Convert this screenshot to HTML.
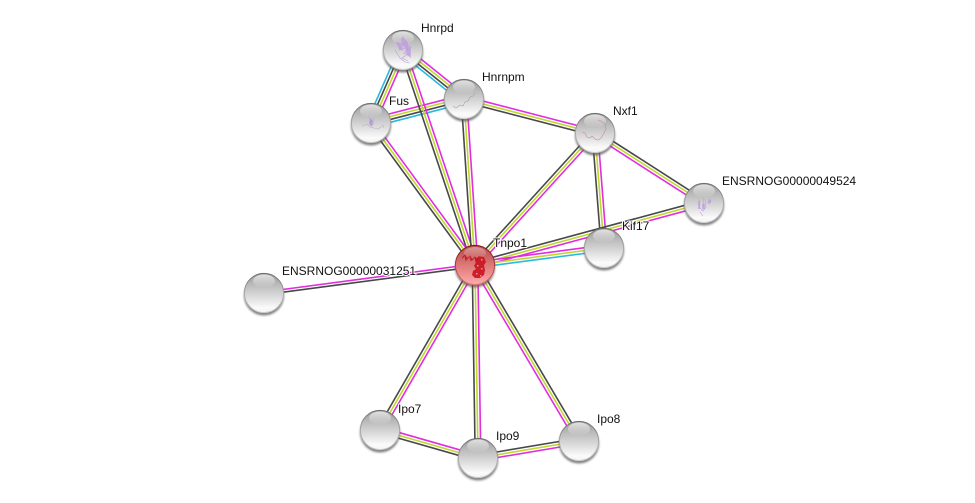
<!DOCTYPE html>
<html>
<head>
<meta charset="utf-8">
<style>
html,body{margin:0;padding:0;background:#fff;width:975px;height:503px;overflow:hidden}
svg{display:block}
text{font-family:"Liberation Sans",Arial,sans-serif;font-size:12px;fill:#111;paint-order:stroke;stroke:#fff;stroke-width:2px;stroke-linejoin:round}
.s{fill:none;stroke-width:.6}
</style>
</head>
<body>
<svg width="975" height="503" viewBox="0 0 975 503" xmlns="http://www.w3.org/2000/svg">
<defs>
<linearGradient id="gb" x1="0" y1="0" x2="0" y2="1">
<stop offset="0" stop-color="#9a9a9a"/><stop offset=".3" stop-color="#bcbcbc"/><stop offset=".6" stop-color="#dcdcdc"/><stop offset=".88" stop-color="#fbfbfb"/><stop offset="1" stop-color="#f4f4f4"/>
</linearGradient>
<linearGradient id="gs" x1="0" y1="0" x2="0" y2="1">
<stop offset="0" stop-color="#6c6c6c"/><stop offset=".5" stop-color="#a8a8a8"/><stop offset="1" stop-color="#c8c8c8"/>
</linearGradient>
<linearGradient id="gh" x1="0" y1="0" x2="0" y2="1">
<stop offset="0" stop-color="#fff" stop-opacity=".7"/><stop offset="1" stop-color="#fff" stop-opacity="0"/>
</linearGradient>
<linearGradient id="rb" x1="0" y1="0" x2="0" y2="1">
<stop offset="0" stop-color="#b84a4a"/><stop offset=".35" stop-color="#d06a6a"/><stop offset=".7" stop-color="#ec8c8c"/><stop offset="1" stop-color="#ffacac"/>
</linearGradient>
<linearGradient id="rs" x1="0" y1="0" x2="0" y2="1">
<stop offset="0" stop-color="#7a1414"/><stop offset=".5" stop-color="#a83c3c"/><stop offset="1" stop-color="#d07878"/>
</linearGradient>
<filter id="bl" x="-30%" y="-30%" width="160%" height="160%"><feGaussianBlur stdDeviation="1"/></filter>
<g id="n">
<circle cx="0" cy="2.5" r="20" fill="#555" opacity=".75" filter="url(#bl)"/>
<circle r="19.6" fill="url(#gb)" stroke="url(#gs)" stroke-width="1"/>
<ellipse cx="0" cy="-12" rx="11" ry="6.5" fill="url(#gh)"/>
</g>
<g id="r">
<circle cx="0" cy="2.5" r="20" fill="#644" opacity=".7" filter="url(#bl)"/>
<circle r="19.6" fill="url(#rb)" stroke="url(#rs)" stroke-width="1"/>
</g>
<line id="e1" x1="403" y1="50" x2="371" y2="123"/>
<line id="e2" x1="403" y1="50" x2="464" y2="99"/>
<line id="e3" x1="371" y1="123" x2="464" y2="99"/>
<line id="e4" x1="403" y1="50" x2="475" y2="265"/>
<line id="e5" x1="371" y1="123" x2="475" y2="265"/>
<line id="e6" x1="464" y1="99" x2="475" y2="265"/>
<line id="e7" x1="464" y1="99" x2="595" y2="133"/>
<line id="e8" x1="595" y1="133" x2="475" y2="265"/>
<line id="e9" x1="595" y1="133" x2="604" y2="248"/>
<line id="e10" x1="595" y1="133" x2="704" y2="203"/>
<line id="e11" x1="704" y1="203" x2="475" y2="265"/>
<line id="e12" x1="604" y1="248" x2="475" y2="265"/>
<line id="e13" x1="264" y1="293" x2="475" y2="265"/>
<line id="e14" x1="380" y1="430" x2="475" y2="265"/>
<line id="e15" x1="478" y1="458" x2="475" y2="265"/>
<line id="e16" x1="579" y1="441" x2="475" y2="265"/>
<line id="e17" x1="380" y1="430" x2="478" y2="458"/>
<line id="e18" x1="478" y1="458" x2="579" y2="441"/>
</defs>

<rect width="975" height="503" fill="#fff"/>

<!-- edges -->
<g stroke-width="1.6" fill="none">
<use href="#e1" stroke="#2cb8e0" transform="translate(-3.84,-1.68)"/>
<use href="#e1" stroke="#484848" transform="translate(-1.28,-.56)"/>
<use href="#e1" stroke="#bfd82c" transform="translate(1.28,.56)"/>
<use href="#e1" stroke="#e22ce0" transform="translate(3.84,1.68)"/>

<use href="#e2" stroke="#e22ce0" transform="translate(2.63,-3.27)"/>
<use href="#e2" stroke="#bfd82c" transform="translate(.88,-1.09)"/>
<use href="#e2" stroke="#484848" transform="translate(-.88,1.09)"/>
<use href="#e2" stroke="#2cb8e0" transform="translate(-2.63,3.27)"/>

<use href="#e3" stroke="#e22ce0" transform="translate(-1.05,-4.07)"/>
<use href="#e3" stroke="#bfd82c" transform="translate(-.35,-1.36)"/>
<use href="#e3" stroke="#484848" transform="translate(.35,1.36)"/>
<use href="#e3" stroke="#2cb8e0" transform="translate(1.05,4.07)"/>

<use href="#e4" stroke="#484848" transform="translate(-2.66,.89)"/>
<use href="#e4" stroke="#bfd82c"/>
<use href="#e4" stroke="#e22ce0" transform="translate(2.66,-.89)"/>

<use href="#e5" stroke="#484848" transform="translate(-2.26,1.65)"/>
<use href="#e5" stroke="#bfd82c"/>
<use href="#e5" stroke="#e22ce0" transform="translate(2.26,-1.65)"/>

<use href="#e6" stroke="#484848" transform="translate(-2.79,.19)"/>
<use href="#e6" stroke="#bfd82c"/>
<use href="#e6" stroke="#e22ce0" transform="translate(2.79,-.19)"/>

<use href="#e7" stroke="#e22ce0" transform="translate(.7,-2.71)"/>
<use href="#e7" stroke="#bfd82c"/>
<use href="#e7" stroke="#484848" transform="translate(-.7,2.71)"/>

<use href="#e8" stroke="#484848" transform="translate(-2.07,-1.88)"/>
<use href="#e8" stroke="#bfd82c"/>
<use href="#e8" stroke="#e22ce0" transform="translate(2.07,1.88)"/>

<use href="#e9" stroke="#484848" transform="translate(-2.79,.22)"/>
<use href="#e9" stroke="#bfd82c"/>
<use href="#e9" stroke="#e22ce0" transform="translate(2.79,-.22)"/>

<use href="#e10" stroke="#484848" transform="translate(1.51,-2.36)"/>
<use href="#e10" stroke="#bfd82c"/>
<use href="#e10" stroke="#e22ce0" transform="translate(-1.51,2.36)"/>

<use href="#e11" stroke="#484848" transform="translate(-.73,-2.7)"/>
<use href="#e11" stroke="#bfd82c"/>
<use href="#e11" stroke="#e22ce0" transform="translate(.73,2.7)"/>

<use href="#e12" stroke="#e22ce0" transform="translate(-.37,-2.78)"/>
<use href="#e12" stroke="#bfd82c"/>
<use href="#e12" stroke="#2cb8e0" transform="translate(.37,2.78)"/>

<use href="#e13" stroke="#e22ce0" transform="translate(-.1,-1)"/>
<use href="#e13" stroke="#484848" transform="translate(.25,1.7)"/>

<use href="#e14" stroke="#484848" transform="translate(-2.43,-1.4)"/>
<use href="#e14" stroke="#bfd82c"/>
<use href="#e14" stroke="#e22ce0" transform="translate(2.43,1.4)"/>

<use href="#e15" stroke="#484848" transform="translate(-2.8,.04)"/>
<use href="#e15" stroke="#bfd82c"/>
<use href="#e15" stroke="#e22ce0" transform="translate(2.8,-.04)"/>

<use href="#e16" stroke="#e22ce0" transform="translate(-2.41,1.42)"/>
<use href="#e16" stroke="#bfd82c"/>
<use href="#e16" stroke="#484848" transform="translate(2.41,-1.42)"/>

<use href="#e17" stroke="#e22ce0" transform="translate(.77,-2.69)"/>
<use href="#e17" stroke="#bfd82c"/>
<use href="#e17" stroke="#484848" transform="translate(-.77,2.69)"/>

<use href="#e18" stroke="#484848" transform="translate(-.46,-2.76)"/>
<use href="#e18" stroke="#bfd82c"/>
<use href="#e18" stroke="#e22ce0" transform="translate(.46,2.76)"/>
</g>

<!-- nodes -->
<use href="#n" x="403" y="50"/>
<path class="s" stroke="#b8a0d8" stroke-width=".8" d="M396 42l8 3-5 5 9-3-4 7 6-1-8 5 6 3M401 38l2 8 4-4 1 9 3-5-1 10M395 50l5 8 5 4 5 1"/>
<path fill="#c09ae4" opacity=".75" d="M402 36l5 5 3 8 1 9-4-3-2-7-3-6zM396 42l5 2 2 7-4-2z"/>

<use href="#n" x="464" y="99"/>
<path class="s" stroke="#b09aa8" stroke-width=".7" d="M453 106l3 2 4-3 3 1 2-4 3-1 2-4 3-1 2-3"/>

<use href="#n" x="371" y="123"/>
<path class="s" stroke="#c0b0d4" stroke-width=".7" d="M362 126l5-2 3 3 4 1 4 1 3-2 2-2 1 3M368 116l3 5 3-3-1 7"/>
<path fill="#b08ce0" opacity=".75" d="M370 118l3 3-1 6-3-3z"/>

<use href="#n" x="595" y="133"/>
<path class="s" stroke="#c88a98" stroke-width=".7" d="M582 132l3 1 2 4 3 1 2-2 3 3 3 1 3-2 3-5 2-4-1-5-4-3-3-1"/>

<use href="#n" x="704" y="203"/>
<path class="s" stroke="#c0a0dc" stroke-width=".7" d="M699 199l1 9 3 3 3-4-1-8M703 197l1 13M708 199l3 1-3 3 2 1M700 212l3 4"/>
<path fill="#bd94e4" opacity=".6" d="M698 201h2v8h-2zM702 204h3v5h-3zM708 200h3v3h-3z"/>

<use href="#n" x="604" y="248"/>
<use href="#n" x="264" y="293"/>
<use href="#n" x="380" y="430"/>
<use href="#n" x="478" y="458"/>
<use href="#n" x="579" y="441"/>

<use href="#r" x="475" y="265"/>
<g>
<path fill="none" stroke="#c81420" stroke-width=".9" d="M462 258l3-3 2 4 3-3 2 4 3-3 2 3 3-3M465 255l1 6M470 256l1 5M475 257l1 5"/>
<path fill="#c81420" opacity=".9" d="M479 256l5 1 2 5-2 3 1 5-1 5-4 3-5 0-3-3 1-4 3-2-2-3 2-4-1-3z"/>
<path fill="#f09090" d="M481 259h1.5v1.5h-1.5zM477 265h1.5v1.5h-1.5zM481 268h1.5v1.5h-1.5zM476 273h1.5v1.5h-1.5zM480 275h1.5v1.5h-1.5z"/>
<ellipse cx="475" cy="253" rx="11" ry="6" fill="url(#gh)" opacity=".6"/>
</g>

<!-- labels -->
<text x="421" y="32">Hnrpd</text>
<text x="482" y="81">Hnrnpm</text>
<text x="389" y="105">Fus</text>
<text x="613" y="115">Nxf1</text>
<text x="722" y="185">ENSRNOG00000049524</text>
<text x="622" y="230">Kif17</text>
<text x="493" y="247">Tnpo1</text>
<text x="282" y="275">ENSRNOG00000031251</text>
<text x="398" y="413">Ipo7</text>
<text x="496" y="440">Ipo9</text>
<text x="597" y="423">Ipo8</text>
</svg>
</body>
</html>
